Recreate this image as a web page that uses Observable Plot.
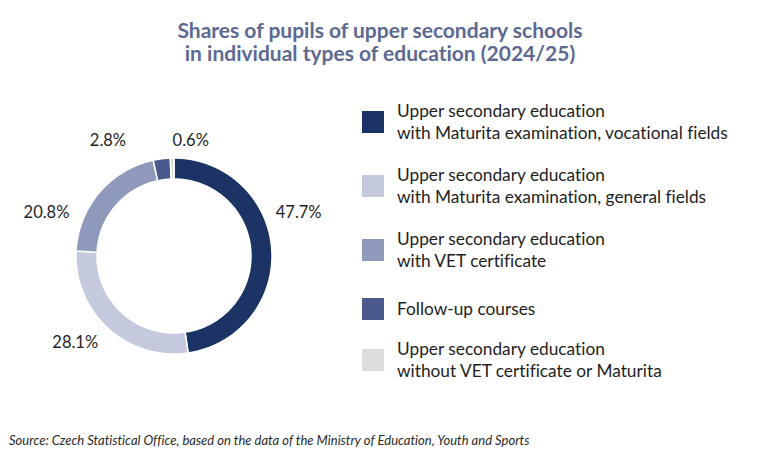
<!DOCTYPE html>
<html>
<head>
<meta charset="utf-8">
<script src="https://cdn.jsdelivr.net/npm/d3@7"></script>
<script src="https://cdn.jsdelivr.net/npm/@observablehq/plot@0.6"></script>
<style>
  html, body { margin: 0; padding: 0; background: #fff; }
  #chart { position: relative; width: 760px; height: 461px; background: #fff; font-family: Lato, "Noto Sans", sans-serif; color: #1e1e1e; overflow: hidden; font-variant-ligatures: none; }
  #title { position: absolute; top: 18px; left: 0; width: 760px; text-align: center; font-size: 21px; line-height: 23px; font-weight: 700; color: #5d6992; }
  #donut { position: absolute; left: 0; top: 80px; }
  #legend { position: absolute; left: 362px; top: 100px; display: flex; flex-direction: column; gap: 20px; }
  .item { display: flex; align-items: center; }
  .swatch { width: 22px; height: 22px; flex: none; margin-right: 13px; }
  .label { font-size: 17.3px; line-height: 22px; }
  #caption { position: absolute; left: 9px; top: 432px; font-size: 13px; font-style: italic; color: #2a2a2a; }
</style>
</head>
<body>
<div id="chart">
  <div id="title">Shares of pupils of upper secondary schools<br>in individual types of education (2024/25)</div>
  <div id="donut"></div>
  <div id="legend"></div>
  <div id="caption">Source: Czech Statistical Office, based on the data of the Ministry of Education, Youth and Sports</div>
</div>
<script>
// Types of education (legend text, one entry per line)
const categories = [
  ["Upper secondary education", "with Maturita examination, vocational fields"],
  ["Upper secondary education", "with Maturita examination, general fields"],
  ["Upper secondary education", "with VET certificate"],
  ["Follow-up courses"],
  ["Upper secondary education", "without VET certificate or Maturita"]
];
// Share of pupils, %
const shares = [47.7, 28.1, 20.8, 2.8, 0.6];
const colors = ["#1b3365", "#c4c9de", "#8f99bb", "#4b5a8c", "#dcdcdc"];

const keys = categories.map(c => c.join(" "));
const fmt = v => v.toFixed(1) + "%";

// Ring geometry (pixels)
const W = 350, H = 330, cx = 173.5, cy = 175.5;
const outerR = 98, innerR = 77, labelR = 120;
// Label placement tweaks around the ring
const labelNudge = [[5, -35], [-18, -2], [-36, 34], [-51, 4], [19, 5]];

const total = d3.sum(shares);
const ringPts = [];
const labels = [];
let cum = 0;
shares.forEach((v, i) => {
  const a0 = cum / total * 2 * Math.PI;
  const a1 = (cum + v) / total * 2 * Math.PI;
  const n = Math.max(2, Math.ceil((a1 - a0) / (Math.PI / 360)));
  for (let k = 0; k <= n; k++) {
    const a = a0 + (a1 - a0) * k / n;
    ringPts.push({key: keys[i], x: outerR * Math.sin(a), y: -outerR * Math.cos(a)});
  }
  for (let k = n; k >= 0; k--) {
    const a = a0 + (a1 - a0) * k / n;
    ringPts.push({key: keys[i], x: innerR * Math.sin(a), y: -innerR * Math.cos(a)});
  }
  const am = (a0 + a1) / 2;
  labels.push({
    text: fmt(v),
    x: labelR * Math.sin(am) + labelNudge[i][0],
    y: -labelR * Math.cos(am) + labelNudge[i][1]
  });
  cum += v;
});

const plot = Plot.plot({
  width: W,
  height: H,
  margin: 0,
  x: {domain: [-cx, W - cx], range: [0, W], axis: null},
  y: {domain: [-cy, H - cy], range: [0, H], axis: null},
  color: {domain: keys, range: colors},
  style: {fontFamily: "Lato, 'Noto Sans', sans-serif", background: "transparent", color: "#1e1e1e"},
  marks: [
    Plot.line(ringPts, {x: "x", y: "y", z: "key", fill: "key", stroke: "white", strokeWidth: 1.5, curve: "linear-closed"}),
    Plot.text(labels, {x: "x", y: "y", text: "text", fontSize: 16.5, fill: "#1e1e1e"})
  ]
});
document.getElementById("donut").appendChild(plot);

// Legend
const legend = d3.select("#legend");
categories.forEach((lines, i) => {
  const item = legend.append("div").attr("class", "item");
  if (lines.length === 1) item.style("margin-top", "6px").style("margin-bottom", "-2px");
  item.append("div").attr("class", "swatch").style("background", colors[i]);
  item.append("div").attr("class", "label").html(lines.join("<br>"));
});
</script>
</body>
</html>
